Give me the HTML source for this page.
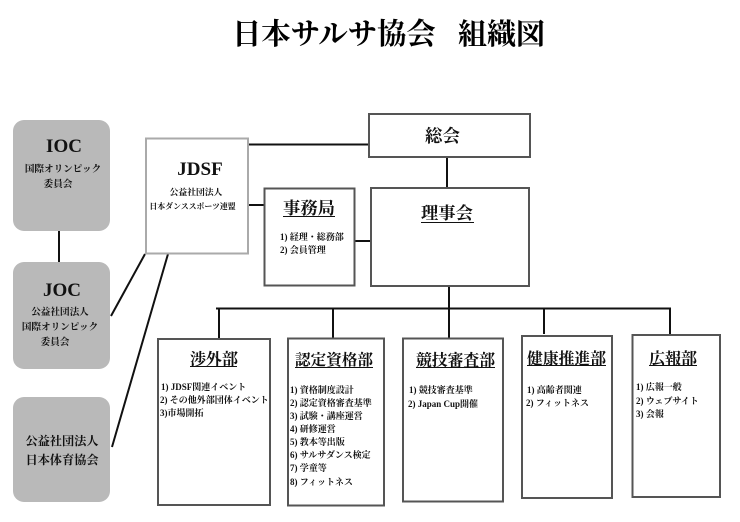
<!DOCTYPE html>
<html lang="ja"><head><meta charset="utf-8"><style>
html,body{margin:0;padding:0;background:#fff;width:740px;height:522px;overflow:hidden}
svg{display:block}
text{font-family:"Liberation Serif","Noto Serif CJK SC","Noto Serif CJK JP",serif;fill:#111;font-weight:700}
.m{text-anchor:middle}
.l{font-size:9px;letter-spacing:0}
.h{font-size:16px}
.b{fill:#fff;stroke:#555;stroke-width:2}
.g{fill:#b9b9b9}
.c{stroke:#111;stroke-width:2;fill:none}
</style></head><body>
<svg width="740" height="522" viewBox="0 0 740 522" xmlns="http://www.w3.org/2000/svg">
<text x="232" y="44" style="font-size:29.3px;font-weight:700;fill:#000">日本サルサ協会</text>
<text x="458" y="44" style="font-size:29px;font-weight:700;fill:#000">組織図</text>

<path class="c" d="M59 231V262M145 254L111 316M168 254L112 447M248 144.500H369M248 205H264M354 241H371M447 158V188M449 286V338M216 308.500H671M219 308V338M333 308V338M544 308V334M670 308V335"/>

<rect class="g" x="13" y="120" width="97" height="111" rx="11"/>
<rect class="g" x="13" y="262" width="97" height="107" rx="11"/>
<rect class="g" x="13" y="397" width="97" height="105" rx="11"/>
<rect x="146" y="138.500" width="102" height="115" fill="#fff" stroke="#aaa" stroke-width="2"/>
<rect class="b" x="369" y="114" width="161" height="43"/>
<rect class="b" x="371" y="188" width="158" height="98"/>
<rect class="b" x="264.500" y="188.500" width="90" height="97"/>
<rect class="b" x="158" y="339" width="112" height="166"/>
<rect class="b" x="288" y="338.500" width="96" height="167"/>
<rect class="b" x="403" y="338.500" width="100" height="163"/>
<rect class="b" x="522" y="336" width="90" height="162"/>
<rect class="b" x="632.500" y="335" width="87.500" height="162"/>

<text class="m" x="64" y="152" style="font-size:19px">IOC</text>
<text class="m" x="63" y="172" style="font-size:9.600px">国際オリンピック</text>
<text class="m" x="58" y="187" style="font-size:9.600px">委員会</text>
<text class="m" x="62" y="296" style="font-size:19px">JOC</text>
<text class="m" x="60" y="315" style="font-size:9.600px">公益社団法人</text>
<text class="m" x="60" y="330" style="font-size:9.600px">国際オリンピック</text>
<text class="m" x="55" y="345" style="font-size:9.600px">委員会</text>
<text class="m" x="62" y="445" style="font-size:12.200px">公益社団法人</text>
<text class="m" x="62" y="464" style="font-size:12.200px">日本体育協会</text>
<text class="m" x="200" y="175" style="font-size:19px">JDSF</text>
<text class="m" x="196" y="195" style="font-size:8.800px">公益社団法人</text>
<text class="m" x="192.500" y="209" style="font-size:7.900px">日本ダンススポーツ連盟</text>

<text x="425" y="142" style="font-size:17.500px">総会</text>
<text x="421" y="219" style="font-size:17.300px">理事会</text>
<path class="c" style="stroke-width:1" d="M421 222.500H474M283 216.500H335M190 366.500H237M295 367.500H373M416 367.500H495M527 365.500H606M649 365.500H697"/>
<text x="283" y="214" style="font-size:17.300px">事務局</text>
<text class="l" x="280" y="240">1) 経理・総務部</text>
<text class="l" x="280" y="253">2) 会員管理</text>

<text class="h" x="190" y="364.500">渉外部</text>
<text class="l" x="161" y="390">1) JDSF関連イベント</text>
<text class="l" x="160" y="403">2) その他外部団体イベント</text>
<text class="l" x="160" y="416">3)市場開拓</text>

<text class="h" x="295" y="365" style="font-size:15.600px">認定資格部</text>
<text class="l" x="290" y="393">1) 資格制度設計</text>
<text class="l" x="290" y="406">2) 認定資格審査基準</text>
<text class="l" x="290" y="419">3) 試験・講座運営</text>
<text class="l" x="290" y="432">4) 研修運営</text>
<text class="l" x="290" y="445">5) 教本等出版</text>
<text class="l" x="290" y="458">6) サルサダンス検定</text>
<text class="l" x="290" y="471">7) 学童等</text>
<text class="l" x="290" y="485">8) フィットネス</text>

<text class="h" x="416" y="365.500" style="font-size:15.800px">競技審査部</text>
<text class="l" x="409" y="393">1) 競技審査基準</text>
<text class="l" x="408" y="407">2) Japan Cup開催</text>

<text class="h" x="527" y="364" style="font-size:15.800px">健康推進部</text>
<text class="l" x="527" y="393">1) 高齢者関連</text>
<text class="l" x="526" y="406">2) フィットネス</text>

<text class="h" x="649" y="364">広報部</text>
<text class="l" x="636" y="390">1) 広報一般</text>
<text class="l" x="636" y="404">2) ウェブサイト</text>
<text class="l" x="636" y="417">3) 会報</text>
</svg>
</body></html>
